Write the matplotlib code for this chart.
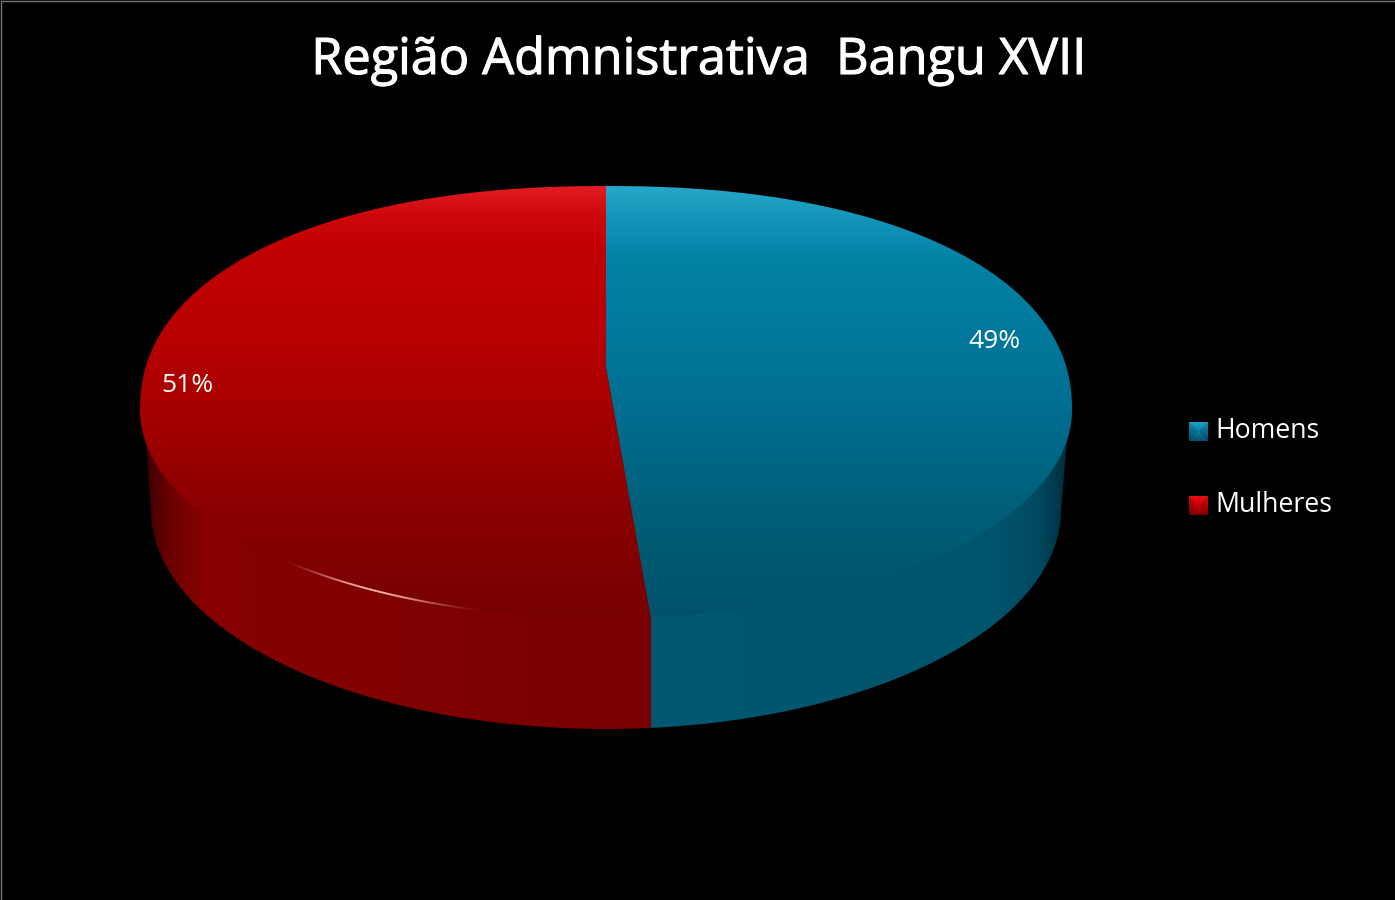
import numpy as np
import matplotlib
matplotlib.use("Agg")
import matplotlib.patheffects as pe
import matplotlib.pyplot as plt
from matplotlib.collections import LineCollection
from matplotlib.patches import PathPatch, Polygon
from matplotlib.path import Path

plt.rcParams["font.family"] = ["Open Sans", "DejaVu Sans"]

title = "Região Admnistrativa  Bangu XVII"
categories = ["Homens", "Mulheres"]
shares = [48.7, 51.3]

# pie geometry, in image pixels
CX, CY, RX = 606, 410, 466
RY_UP, RY_DOWN = 224, 208
PIE_Y = 368
BOT_CX, BOT_CY, BOT_RX, BOT_RY = 606, 510, 455, 219
tilt = -0.157


def rim(t):
    # t is clockwise from 12 o'clock, circle seen in perspective, top half a bit flatter at the shoulders
    yc = -np.cos(t)
    d = 1 + tilt * yc
    ux = np.sin(t) * np.sqrt(1 - tilt ** 2) / d
    uy = (yc + tilt) / d
    up = uy < 0
    x = np.where(up, np.sign(ux) * np.abs(ux) ** (2 / 2.2), ux)
    y = np.where(up, -np.abs(uy) ** (2 / 2.2) * RY_UP, uy * RY_DOWN)
    return CX + RX * x, CY + y


def slice_path(a, b):
    t = np.linspace(a, b, 400)
    x, y = rim(t)
    return Path(np.column_stack([np.r_[CX, x, CX], np.r_[PIE_Y, y, PIE_Y]]))


def gradient(ax, stops, extent, clip):
    ys = np.arange(extent[2], extent[3])
    pos = [s[0] for s in stops]
    img = np.stack([np.interp(ys, pos, [s[1][i] for s in stops]) for i in range(3)], axis=-1)[:, None, :]
    im = ax.imshow(img / 255, extent=(extent[0], extent[1], extent[3], extent[2]), aspect="auto",
                   interpolation="bilinear", zorder=2)
    im.set_clip_path(PathPatch(clip, transform=ax.transData))
    return im


fig = plt.figure(figsize=(13.95, 9), dpi=100, facecolor="black")
ax = fig.add_axes([0, 0, 1, 1])
ax.set_facecolor("black")

top_colors = [
    [(186, (38, 168, 202)), (215, (20, 150, 186)), (260, (2, 130, 165)), (410, (0, 110, 145)),
     (500, (0, 96, 122)), (618, (0, 82, 106))],
    [(186, (226, 28, 34)), (215, (205, 8, 12)), (250, (192, 0, 0)), (330, (186, 0, 0)), (410, (166, 0, 0)),
     (500, (140, 0, 0)), (618, (118, 0, 0))],
]

# side wall first, the top is painted over it
angles = np.cumsum([0] + shares) / sum(shares) * 2 * np.pi
split_x = float(rim(angles[1])[0])

wx = np.arange(130, 1085)
wr = np.interp(wx, [146, 165, 200, 400, 650], [60, 100, 135, 128, 120])
wb_g = np.interp(wx, [650, 1000, 1040, 1065], [88, 84, 72, 46])
wb_b = np.interp(wx, [650, 1000, 1040, 1065], [112, 108, 94, 64])
wall = np.zeros((1, len(wx), 3))
left = wx < split_x
wall[0, left, 0] = wr[left]
wall[0, ~left, 1] = wb_g[~left]
wall[0, ~left, 2] = wb_b[~left]

a = np.linspace(np.pi, 0, 300)
wall_x = np.r_[146, BOT_CX + BOT_RX * np.cos(a), 1067]
wall_y = np.r_[440, BOT_CY + BOT_RY * np.sin(a), 440]
wall_clip = Path(np.column_stack([wall_x, wall_y]))
im = ax.imshow(wall / 255, extent=(130, 1085, 740, 400), aspect="auto", interpolation="nearest", zorder=1)
im.set_clip_path(PathPatch(wall_clip, transform=ax.transData))

for i in range(len(shares)):
    gradient(ax, top_colors[i], (130, 1085, 180, 625), slice_path(angles[i], angles[i + 1]))

# thin reflection on the rim of the red slice
t = np.linspace(np.radians(219), np.radians(192), 80)
hx, hy = rim(t)
pts = np.column_stack([hx, hy])
segs = np.stack([pts[:-1], pts[1:]], axis=1)
fade = np.sin(np.linspace(0, np.pi, len(segs))) ** 2
seg_colors = np.zeros((len(segs), 4))
seg_colors[:, 0] = 1
seg_colors[:, 1] = 0.75
seg_colors[:, 2] = 0.7
seg_colors[:, 3] = fade * 0.95
ax.add_collection(LineCollection(segs, colors=seg_colors, linewidths=1.4, zorder=3))

ax.text(698, 61, title, color="white", fontsize=36.3, ha="center", va="center", zorder=5,
        path_effects=[pe.withStroke(linewidth=0.8, foreground="white")])
ax.text(994, 341, f"{shares[0]:.0f}%", color="white", fontsize=19, ha="center", va="center", zorder=5)
ax.text(187, 385, f"{shares[1]:.0f}%", color="white", fontsize=19, ha="center", va="center", zorder=5)

# legend
legend_top = [422, 496]
legend_colors = [[(0, (30, 160, 195)), (10, (5, 125, 160)), (19, (0, 75, 100))],
                 [(0, (235, 15, 20)), (10, (205, 0, 5)), (19, (110, 0, 0))]]
for i, name in enumerate(categories):
    y0 = legend_top[i]
    stops = [(y0 + p, c) for p, c in legend_colors[i]]
    box = Path([(1189, y0), (1208, y0), (1208, y0 + 19), (1189, y0 + 19), (1189, y0)])
    gradient(ax, stops, (1189, 1208, y0, y0 + 19), box)
    mid = (1198.5, y0 + 9.5)
    ax.add_patch(Polygon([(1189, y0), mid, (1189, y0 + 19)], fc="black", alpha=0.15, lw=0, zorder=3))
    ax.add_patch(Polygon([(1208, y0), mid, (1208, y0 + 19)], fc="black", alpha=0.15, lw=0, zorder=3))
    ax.text(1215, y0 + 8.5, name, color="white", fontsize=19.2, ha="left", va="center", zorder=5)

# faint edge on the left and top of the picture only
ax.plot([0.5, 0.5, 1395], [900, 0.5, 0.5], color="#777777", lw=1, zorder=6)

ax.set_xlim(0, 1395)
ax.set_ylim(900, 0)
ax.axis("off")
fig.savefig("out.png", dpi=100, facecolor="black")
